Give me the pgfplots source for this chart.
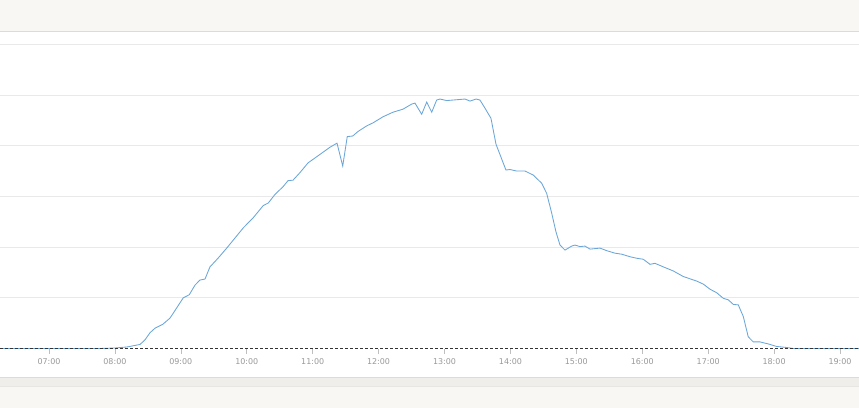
\documentclass[border=0pt]{standalone}
\usepackage{fontspec}
\setmainfont{DejaVu Sans}
\usepackage{pgfplots}
\pgfplotsset{compat=1.18}
\usetikzlibrary{backgrounds}
\definecolor{bandc}{HTML}{F8F7F3}
\definecolor{bandmid}{HTML}{EFEEEA}
\definecolor{bandline}{HTML}{DCDBD6}
\definecolor{gridc}{HTML}{E9E9E9}
\definecolor{tickc}{HTML}{999999}
\definecolor{linec}{RGB}{106,166,216}
\begin{document}
\begin{tikzpicture}
\begin{axis}[
  scale only axis, width=859bp, height=317.2bp,
  xmin=6.2567, xmax=19.2882, ymin=0, ymax=6.256,
  axis line style={draw=none},
  xtick={7,8,...,19},
  xticklabels={07:00,08:00,09:00,10:00,11:00,12:00,13:00,14:00,15:00,16:00,17:00,18:00,19:00},
  xtick pos=lower, ytick pos=left,
  tick align=outside, major tick length=5bp,
  x tick style={color=black!25, line width=0.6bp},
  ytick={1,2,...,6}, yticklabels={},
  y tick style={draw=none},
  ymajorgrids,
  major grid style={color=gridc, line width=0.9bp},
  xticklabel style={font=\fontsize{8}{9}\selectfont, text=tickc, yshift=-1.5bp},
  clip=false,
]
\coordinate (O) at (rel axis cs:0,0);
\addplot[linec, line width=0.85bp] coordinates {
(6.257,0) (7.774,0) (8.001,0.01) (8.183,0.03) (8.381,0.08) (8.456,0.17)
(8.532,0.31) (8.608,0.40) (8.729,0.48) (8.836,0.60) (8.937,0.80) (9.037,1.00)
(9.128,1.06) (9.215,1.25) (9.291,1.35) (9.367,1.37) (9.442,1.61) (9.564,1.78)
(9.696,1.98) (9.822,2.18) (9.948,2.38) (10.099,2.58) (10.251,2.82) (10.327,2.87)
(10.429,3.04) (10.550,3.19) (10.626,3.31) (10.702,3.32) (10.808,3.47) (10.929,3.66)
(11.081,3.80) (11.263,3.97) (11.369,4.05) (11.456,3.60) (11.525,4.18) (11.607,4.19)
(11.688,4.28) (11.819,4.39) (11.915,4.45) (12.067,4.57) (12.218,4.66) (12.370,4.72)
(12.502,4.82) (12.552,4.84) (12.654,4.62) (12.730,4.86) (12.806,4.66) (12.881,4.90)
(12.931,4.92) (13.033,4.89) (13.311,4.92) (13.387,4.88) (13.478,4.92) (13.538,4.90)
(13.614,4.74) (13.705,4.54) (13.781,4.03) (13.932,3.52) (13.993,3.53) (14.095,3.50)
(14.221,3.50) (14.347,3.42) (14.474,3.26) (14.550,3.06) (14.626,2.67) (14.691,2.30)
(14.752,2.04) (14.828,1.94) (14.929,2.02) (14.979,2.04) (15.055,2.01) (15.131,2.02)
(15.207,1.96) (15.358,1.98) (15.460,1.93) (15.586,1.88) (15.688,1.86) (15.814,1.81)
(15.915,1.78) (16.016,1.76) (16.117,1.66) (16.193,1.68) (16.319,1.61) (16.470,1.53)
(16.622,1.42) (16.825,1.33) (16.926,1.27) (17.027,1.17) (17.129,1.10) (17.229,0.99)
(17.305,0.96) (17.381,0.87) (17.457,0.86) (17.533,0.63) (17.608,0.23) (17.684,0.13)
(17.786,0.13) (17.912,0.09) (18.039,0.04) (18.191,0.02) (18.291,0) (19.288,0)
};
\draw[black!80, line width=0.8bp, dash pattern=on 3bp off 2bp] (rel axis cs:0,0) -- (rel axis cs:1,0);
\end{axis}
\begin{scope}[on background layer, shift={(O)}, shift={(0bp,-59.5bp)}, x=1bp, y=1bp]
\fill[white] (0,0) rectangle (859,408);
\fill[bandc] (0,0) rectangle (859,22);
\fill[bandmid] (0,22) rectangle (859,30.3);
\draw[bandline, line width=0.8bp] (0,30.3) -- (859,30.3);
\draw[bandline!70, line width=0.8bp] (0,22) -- (859,22);
\fill[bandc] (0,376.7) rectangle (859,408);
\draw[bandline, line width=1bp] (0,376.7) -- (859,376.7);
\end{scope}
\pgfresetboundingbox
\path[use as bounding box] ([yshift=-59.5bp]O) rectangle ([xshift=859bp,yshift=348.5bp]O);
\end{tikzpicture}
\end{document}
